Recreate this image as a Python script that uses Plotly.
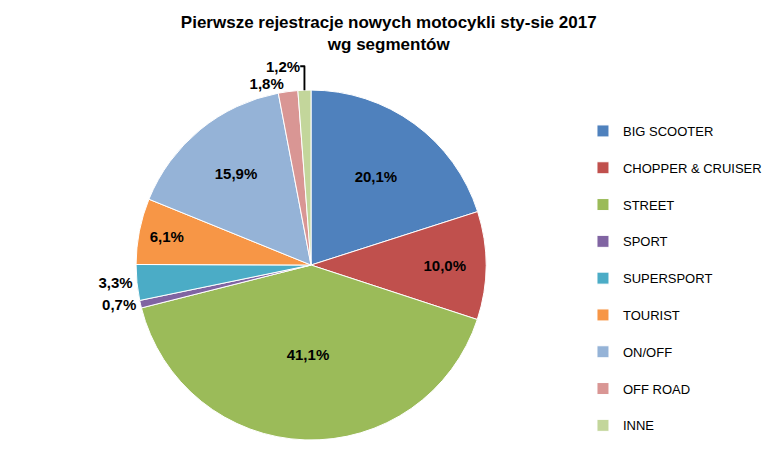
import plotly.graph_objects as go

segmenty = ["BIG SCOOTER", "CHOPPER & CRUISER", "STREET", "SPORT", "SUPERSPORT",
            "TOURIST", "ON/OFF", "OFF ROAD", "INNE"]
udzialy = [20.1, 10.0, 41.1, 0.7, 3.3, 6.1, 15.9, 1.8, 1.2]
kolory = ["#4F81BD", "#C0504D", "#9BBB59", "#8064A2", "#4BACC6",
          "#F79646", "#95B3D7", "#D99694", "#C3D69B"]
pozycje = ["inside", "inside", "inside", "outside", "outside",
           "inside", "inside", "outside", "outside"]

etykiety = ["<b>" + f"{v:.1f}%".replace(".", ",") + "</b>" for v in udzialy]

fig = go.Figure(go.Pie(
    labels=[s + "<br> " for s in segmenty],
    values=udzialy,
    text=etykiety,
    textinfo="text",
    textposition=pozycje,
    insidetextorientation="horizontal",
    textfont=dict(family="Liberation Sans", size=15, color="black"),
    marker=dict(colors=kolory, line=dict(color="white", width=1)),
    sort=False,
    direction="clockwise",
    rotation=0,
    domain=dict(x=[0.12, 0.66], y=[0.0, 0.81]),
))

fig.update_layout(
    width=777, height=450,
    margin=dict(l=0, r=0, t=0, b=0),
    paper_bgcolor="white",
    title=dict(text="<b>Pierwsze rejestracje nowych motocykli sty-sie 2017<br>wg segmentów</b>",
               x=0.49, xanchor="center", y=0.955, yanchor="top",
               font=dict(family="Liberation Sans", size=17, color="black")),
    legend=dict(x=0.74, y=0.75, xanchor="left", yanchor="top",
                font=dict(family="Liberation Sans", size=13, color="black"),
                valign="top", itemwidth=30),
)

fig.write_html("out.html")
